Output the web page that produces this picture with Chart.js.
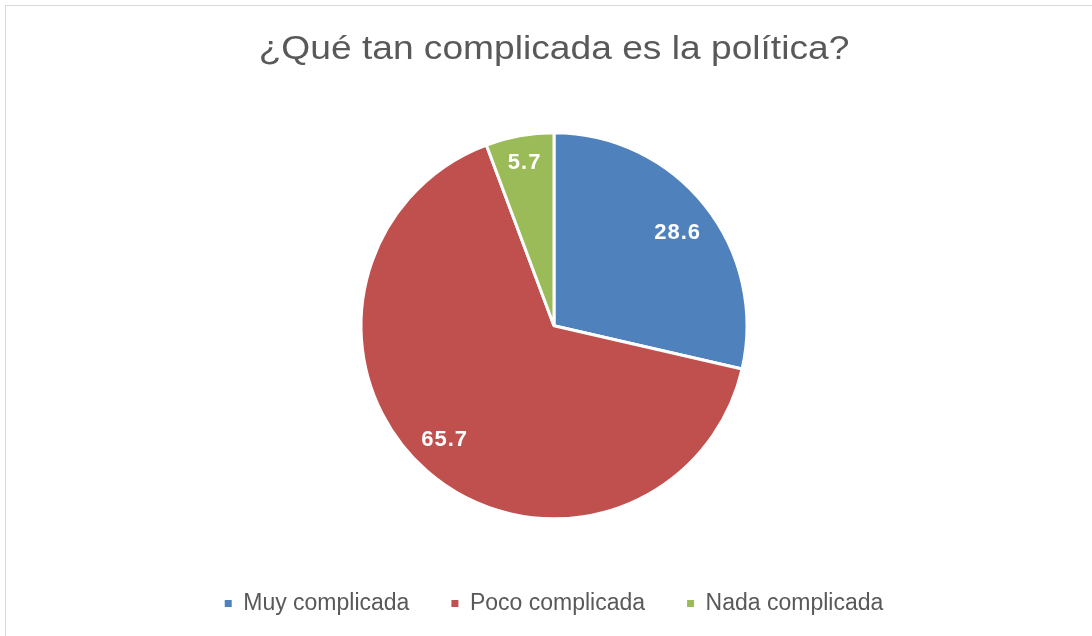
<!DOCTYPE html>
<html>
<head>
<meta charset="utf-8">
<script src="https://cdn.jsdelivr.net/npm/chart.js@4"></script>
<style>
  html, body { margin: 0; padding: 0; background: #fff; overflow: hidden; }
  #wrap { position: absolute; left: 0; top: 0; width: 1092px; height: 636px; }
  #frame { position: absolute; left: 5px; top: 5px; width: 1200px; height: 800px; border: 1px solid #d9d9d9; box-sizing: border-box; }
  canvas { position: absolute; left: 0; top: 0; }
</style>
</head>
<body>
<div id="wrap">
  <div id="frame"></div>
  <canvas id="c" width="1092" height="636"></canvas>
</div>
<script>
const titleText = '¿Qué tan complicada es la política?';
const categories = ['Muy complicada', 'Poco complicada', 'Nada complicada'];
const values = [28.6, 65.7, 5.7];
const colors = ['#4F81BD', '#C0504D', '#9BBB59'];

// label placement style (fraction of radius, angular nudge in degrees)
const labelRadiusFactor = [0.80, 0.82, 0.855];
const labelAngleNudge = [1.7, 2.5, 0];

const FONT = '"Liberation Sans", Arial, sans-serif';

const sliceLabels = {
  id: 'sliceLabels',
  afterDatasetsDraw(chart) {
    const ctx = chart.ctx;
    const meta = chart.getDatasetMeta(0);
    ctx.save();
    ctx.font = 'bold 22px ' + FONT;
    if ('letterSpacing' in ctx) ctx.letterSpacing = '1px';
    ctx.fillStyle = '#ffffff';
    ctx.textAlign = 'center';
    ctx.textBaseline = 'middle';
    meta.data.forEach((arc, i) => {
      const p = arc.getProps(['x', 'y', 'startAngle', 'endAngle', 'outerRadius'], true);
      const mid = (p.startAngle + p.endAngle) / 2 + labelAngleNudge[i] * Math.PI / 180;
      const r = p.outerRadius * labelRadiusFactor[i];
      ctx.fillText(values[i].toFixed(1), p.x + Math.cos(mid) * r, p.y + Math.sin(mid) * r);
    });
    ctx.restore();
  }
};

const chart = new Chart(document.getElementById('c'), {
  type: 'pie',
  data: {
    labels: categories,
    datasets: [{
      data: values,
      backgroundColor: colors,
      borderColor: '#ffffff',
      borderWidth: 3,
      radius: 193
    }]
  },
  options: {
    responsive: false,
    animation: false,
    layout: { padding: { left: 16, right: 0, top: 0, bottom: 11 } },
    plugins: {
      title: {
        display: true,
        text: titleText,
        color: '#595959',
        font: { family: FONT, size: 33, weight: 'normal' },
        padding: { top: 30, bottom: 32 }
      },
      legend: {
        position: 'bottom',
        labels: {
          color: '#595959',
          font: { family: FONT, size: 23 },
          boxWidth: 7,
          boxHeight: 7,
          padding: 42,
          generateLabels(ch) {
            const items = Chart.overrides.pie.plugins.legend.labels.generateLabels(ch);
            return items.map(it => Object.assign(it, { lineWidth: 0, strokeStyle: 'rgba(0,0,0,0)' }));
          }
        }
      },
      tooltip: { enabled: false }
    }
  },
  plugins: [sliceLabels]
});

// The reference title font is horizontally stretched: draw it with a horizontal scale
if (chart.titleBlock) {
  const tb = chart.titleBlock;
  const origDraw = tb.draw;
  tb.draw = function (...args) {
    const ctx = chart.ctx;
    const cx = (tb.left + tb.right) / 2;
    ctx.save();
    ctx.translate(cx, 0);
    ctx.scale(1.126, 1);
    ctx.translate(-cx, 0);
    const r = origDraw.apply(this, args);
    ctx.restore();
    return r;
  };
}
chart.update();
</script>
</body>
</html>
